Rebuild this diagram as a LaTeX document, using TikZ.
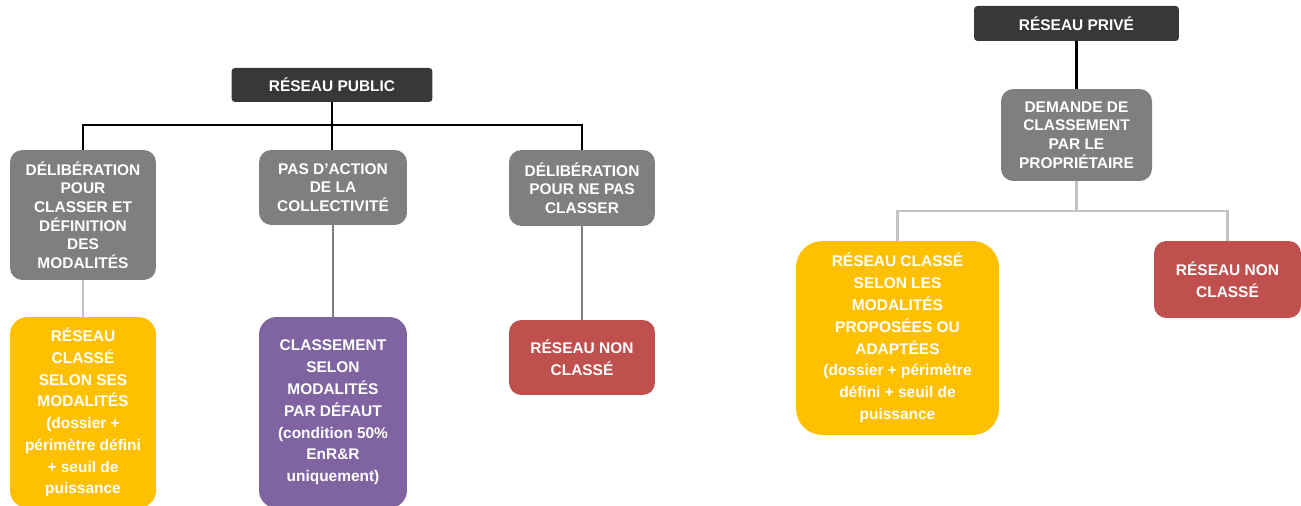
\documentclass[tikz,border=0pt]{standalone}
\usepackage{fontspec}
\setmainfont{Liberation Sans}
\usetikzlibrary{positioning}
\definecolor{headgrey}{HTML}{383838}
\definecolor{boxgrey}{HTML}{7F7F7F}
\definecolor{linegrey}{HTML}{C3C3C3}
\definecolor{classyellow}{HTML}{FFC000}
\definecolor{defpurple}{HTML}{8064A2}
\definecolor{nonred}{HTML}{C0504D}

\begin{document}
\begin{tikzpicture}[
    x = 0.02cm,
    y = -0.02cm,
    head/.style={
        fill = headgrey,
        text = white,
        rounded corners = 2pt,
        inner sep = 0pt,
        align = center,
        font = \bfseries\fontsize{8.8}{10.6}\selectfont
    },
    choice/.style={
        fill = boxgrey,
        text = white,
        rounded corners = 7pt,
        inner sep = 0pt,
        align = center,
        font = \bfseries\fontsize{8.8}{10.6}\selectfont
    },
    result/.style={
        text = white,
        rounded corners = 10pt,
        inner sep = 0pt,
        align = center,
        font = \bfseries\fontsize{8.8}{12.4}\selectfont
    },
    blackline/.style={
        draw = black,
        line width = 1.2pt
    },
    greyline/.style={
        draw = linegrey,
        line width = 1.2pt
    },
    thinline/.style={
        draw = boxgrey,
        line width = 0.6pt
    }
]
\useasboundingbox (0,0) rectangle (1301,506);

% public network
\node[head, minimum width = 4.02cm, minimum height = 0.68cm] (pub) at (332,85) {RÉSEAU PUBLIC};
\node[choice, minimum width = 2.92cm, minimum height = 2.6cm] (delib) at (83,215)
    {DÉLIBÉRATION\\POUR\\CLASSER ET\\DÉFINITION\\DES\\MODALITÉS};
\node[choice, minimum width = 2.96cm, minimum height = 1.5cm] (noact) at (333,187.5)
    {PAS D’ACTION\\DE LA\\COLLECTIVITÉ};
\node[choice, minimum width = 2.92cm, minimum height = 1.52cm] (nodelib) at (582,188)
    {DÉLIBÉRATION\\POUR NE PAS\\CLASSER};
\node[result, fill = classyellow, minimum width = 2.92cm, minimum height = 3.82cm] (ownmod) at (83,412.5)
    {RÉSEAU\\CLASSÉ\\SELON SES\\MODALITÉS\\(dossier +\\périmètre défini\\+ seuil de\\puissance};
\node[result, fill = defpurple, minimum width = 2.96cm, minimum height = 3.82cm] (defmod) at (333,412.5)
    {CLASSEMENT\\SELON\\MODALITÉS\\PAR DÉFAUT\\(condition 50\%\\EnR\&R\\uniquement)};
\node[result, fill = nonred, rounded corners = 7pt, minimum width = 2.92cm, minimum height = 1.5cm] (pubnon) at (582,357.5)
    {RÉSEAU NON\\CLASSÉ};

\draw[blackline] (pub.south) -- (pub.south |- noact.north);
\draw[blackline] (delib.north) -- ++(0,-25) -| (nodelib.north);
\draw[greyline] (delib) -- (ownmod);
\draw[thinline] (noact) -- (defmod);
\draw[thinline] (nodelib) -- (pubnon);

% private network
\node[head, minimum width = 4.1cm, minimum height = 0.7cm] (priv) at (1076.5,23.5) {RÉSEAU PRIVÉ};
\node[choice, minimum width = 3.02cm, minimum height = 1.84cm] (ask) at (1076.5,135)
    {DEMANDE DE\\CLASSEMENT\\PAR LE\\PROPRIÉTAIRE};
\node[result, fill = classyellow, rounded corners = 15pt, minimum width = 4.06cm, minimum height = 3.88cm] (propmod) at (897.5,338)
    {RÉSEAU CLASSÉ\\SELON LES\\MODALITÉS\\PROPOSÉES OU\\ADAPTÉES\\(dossier + périmètre\\défini + seuil de\\puissance};
\node[result, fill = nonred, rounded corners = 7pt, minimum width = 2.94cm, minimum height = 1.54cm] (privnon) at (1227.5,279.5)
    {RÉSEAU NON\\CLASSÉ};

\draw[blackline] (priv) -- (ask);
\draw[greyline] (ask.south) -- ++(0,30) coordinate (fork);
\draw[greyline] (propmod.north) |- (fork) -| (privnon.north);

\end{tikzpicture}
\end{document}
